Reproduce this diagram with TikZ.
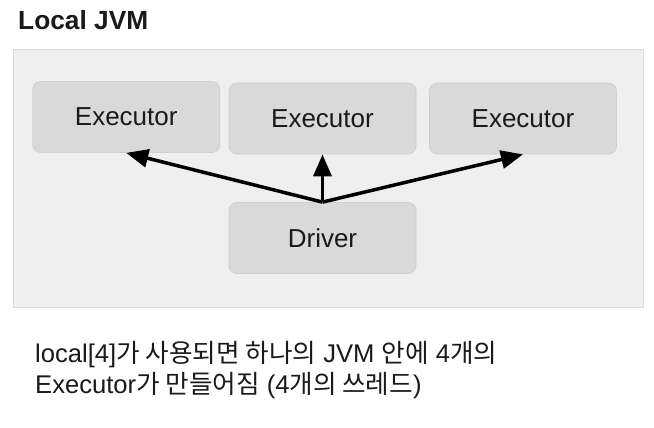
\documentclass[tikz,border=0pt]{standalone}
\usepackage{fontspec}
\setmainfont{Liberation Sans}
\newfontfamily\kr{Noto Sans CJK KR}
\usetikzlibrary{arrows.meta}
\definecolor{outerfill}{HTML}{EFEFEF}
\definecolor{outerline}{HTML}{DCDCDC}
\definecolor{boxfill}{HTML}{D9D9D9}
\definecolor{boxline}{HTML}{CFCFCF}
\definecolor{txt}{HTML}{1A1A1A}
\tikzset{
  procbox/.style={draw=boxline, line width=0.8pt, fill=boxfill, rounded corners=8pt,
    minimum width=187pt, minimum height=71pt, inner sep=0pt,
    font=\fontsize{26}{30}\selectfont, text=txt},
  conn/.style={line width=3.5pt, -{Triangle[length=22pt,width=18pt]}},
  caption/.style={anchor=base west, inner sep=0pt, text=txt, font=\fontsize{25.6}{30}\selectfont},
}
\begin{document}
\begin{tikzpicture}[x=1pt,y=-1pt]
\useasboundingbox[fill=white] (0,0) rectangle (654,428);
\node[anchor=base west, font=\bfseries\fontsize{26.3}{30}\selectfont, text=txt, inner sep=0pt] (title) at (18,30) {Local JVM};
\node[draw=outerline, line width=0.8pt, fill=outerfill, minimum width=630pt, minimum height=257pt, inner sep=0pt, anchor=north west] (jvm) at (12.5,49.5) {};
\node[procbox] (e1) at (126.25,117) {Executor};
\node[procbox] (e2) at (322.5,118.5) {Executor};
\node[procbox] (e3) at (523,118.5) {Executor};
\node[procbox] (drv) at (322.5,238) {Driver};
\draw[conn] (drv.north) -- (e1.south);
\draw[conn] (drv.north) -- (e2.south);
\draw[conn] (drv.north) -- (e3.south);
\node[caption] (l1) at (35,362)
  {local[4]{\kr 가 사용되면 하나의} JVM {\kr 안에} 4{\kr 개의}};
\node[caption] (l2) at (35,393)
  {Executor{\kr 가 만들어짐} (4{\kr 개의 쓰레드})};
\end{tikzpicture}
\end{document}
